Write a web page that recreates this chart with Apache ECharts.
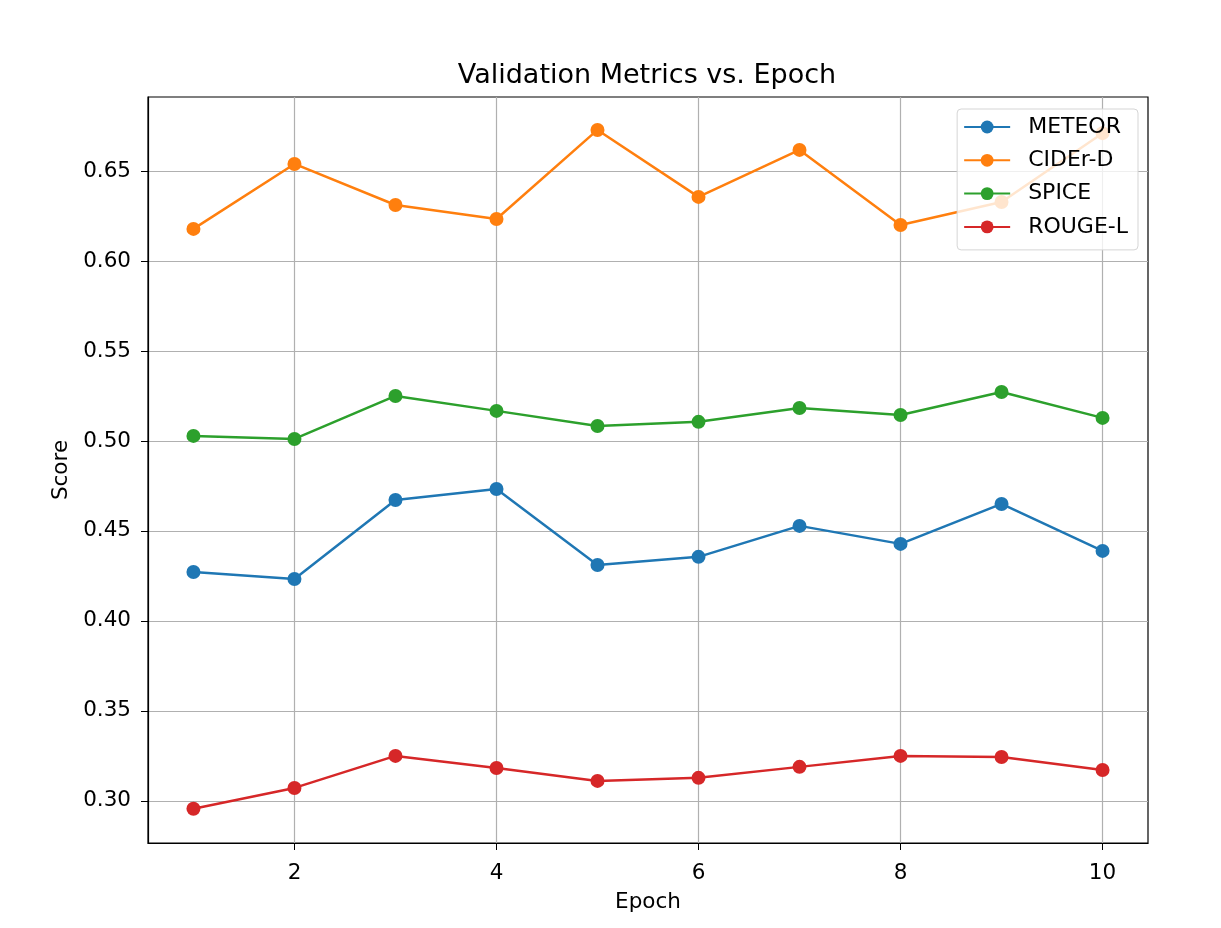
<!DOCTYPE html>
<html>
<head>
<meta charset="utf-8">
<script src="https://cdn.jsdelivr.net/npm/echarts@6/dist/echarts.min.js"></script>
<style>
  html, body { margin: 0; padding: 0; background: #fff; }
  #chart { width: 1221px; height: 928px; }
</style>
</head>
<body>
<div id="chart"></div>
<script>
    var epochs = [1, 2, 3, 4, 5, 6, 7, 8, 9, 10];
    var meteor = [0.4272, 0.4233, 0.4672, 0.4733, 0.4311, 0.4356, 0.4528, 0.4428, 0.4650, 0.4389];
    var ciderD = [0.6178, 0.6539, 0.6311, 0.6233, 0.6728, 0.6356, 0.6617, 0.6200, 0.6328, 0.6710];
    var spice = [0.5028, 0.5011, 0.5250, 0.5167, 0.5083, 0.5106, 0.5183, 0.5144, 0.5272, 0.5128];
    var rougeL = [0.2956, 0.3072, 0.3250, 0.3183, 0.3111, 0.3128, 0.3189, 0.3250, 0.3244, 0.3172];
    var xTicks = [2, 4, 6, 8, 10];
    var yTicks = [0.30, 0.35, 0.40, 0.45, 0.50, 0.55, 0.60, 0.65];

    var seriesList = [
        { name: 'METEOR', values: meteor, color: '#1f77b4' },
        { name: 'CIDEr-D', values: ciderD, color: '#ff7f0e' },
        { name: 'SPICE', values: spice, color: '#2ca02c' },
        { name: 'ROUGE-L', values: rougeL, color: '#d62728' }
    ];

    var font = 'DejaVu Sans';
    var myChart = echarts.init(document.getElementById('chart'));
    var option = {
        animation: false,
        backgroundColor: '#fff',
        title: {
            text: 'Validation Metrics vs. Epoch',
            left: 642,
            top: 57,
            textAlign: 'center',
            textStyle: { fontFamily: font, fontSize: 27, fontWeight: 'normal', color: '#000' }
        },
        legend: {
            right: 83,
            top: 109,
            orient: 'vertical',
            itemWidth: 46,
            itemHeight: 16,
            itemGap: 11.3,
            padding: [7, 10, 12, 6],
            backgroundColor: 'rgba(255,255,255,0.8)',
            borderColor: '#d5d5d5',
            borderWidth: 1,
            borderRadius: 4,
            textStyle: { fontFamily: font, fontSize: 22, lineHeight: 22, color: '#000', padding: [0, 0, 0, 13] },
            data: seriesList.map(function(s) { return s.name; })
        },
        grid: {
            left: 148,
            right: 73,
            top: 97,
            bottom: 85,
            show: true,
            borderColor: '#000',
            borderWidth: 1.2,
            containLabel: false
        },
        xAxis: {
            type: 'value',
            min: 0.55,
            max: 10.45,
            name: 'Epoch',
            nameLocation: 'middle',
            nameGap: 48,
            nameTextStyle: { fontFamily: font, fontSize: 21.5, color: '#000' },
            axisLine: { show: true, onZero: false, lineStyle: { color: '#000', width: 1.2 } },
            axisTick: { show: true, inside: false, length: 7, customValues: xTicks, lineStyle: { color: '#000' } },
            axisLabel: { customValues: xTicks, fontFamily: font, fontSize: 21.5, color: '#000', margin: 19 },
            splitLine: { show: true, lineStyle: { color: '#b0b0b0', width: 1.2 } }
        },
        yAxis: {
            type: 'value',
            min: 0.2766,
            max: 0.6911,
            name: 'Score',
            nameLocation: 'middle',
            nameGap: 75,
            nameTextStyle: { fontFamily: font, fontSize: 21.5, color: '#000' },
            axisLine: { show: true, onZero: false, lineStyle: { color: '#000', width: 1.2 } },
            axisTick: { show: true, inside: false, length: 7, customValues: yTicks, lineStyle: { color: '#000' } },
            axisLabel: {
                customValues: yTicks,
                fontFamily: font, fontSize: 21.5, color: '#000', margin: 17,
                formatter: function(v) { return v.toFixed(2); }
            },
            splitLine: { show: true, lineStyle: { color: '#b0b0b0', width: 1.2 } }
        },
        series: seriesList.map(function(s) {
            return {
                name: s.name,
                type: 'line',
                data: epochs.map(function(e, i) { return [e, s.values[i]]; }),
                symbol: 'circle',
                symbolSize: 14,
                showSymbol: true,
                color: s.color,
                lineStyle: { color: s.color, width: 2.5 },
                itemStyle: { color: s.color }
            };
        })
    };
    myChart.setOption(option);
</script>
</body>
</html>
